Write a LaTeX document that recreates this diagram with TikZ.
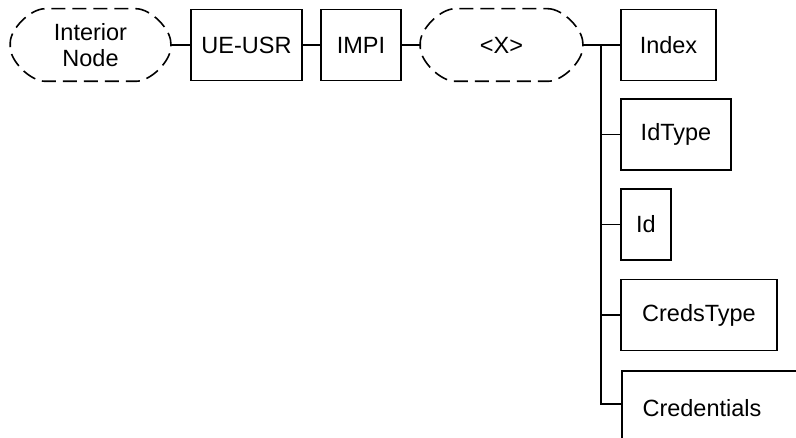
\documentclass[tikz,border=0pt]{standalone}
\usepackage{fontspec}
\setmainfont{Liberation Sans}
\newcommand\dashedoval[1]{%
  \draw[ovalline] ([xshift=-35pt]#1.north east) .. controls ([xshift=-20pt]#1.north east) and ([yshift=16pt]#1.east) .. ([yshift=2pt]#1.east)
   -- ([yshift=-2pt]#1.east) .. controls ([yshift=-16pt]#1.east) and ([xshift=-20pt]#1.south east) .. ([xshift=-35pt]#1.south east)
   -- ([xshift=35pt]#1.south west) .. controls ([xshift=20pt]#1.south west) and ([yshift=-16pt]#1.west) .. ([yshift=-2pt]#1.west)
   -- ([yshift=2pt]#1.west) .. controls ([yshift=16pt]#1.west) and ([xshift=20pt]#1.north west) .. ([xshift=35pt]#1.north west) -- cycle;}
\begin{document}
\begin{tikzpicture}[x=1pt,y=-1pt,line width=1.6pt,
  every node/.style={font=\fontsize{23.5}{26}\selectfont},
  boxnode/.style={draw,rectangle,inner sep=0pt,minimum height=71pt},
  ovalnode/.style={rectangle,inner sep=0pt,minimum height=71pt,align=center},
  ovalline/.style={dash pattern=on 14pt off 7pt},
  link/.style={draw}]
\clip (0,0) rectangle (796,438);
\node[ovalnode,minimum width=159pt] (inode) at (90.5,45) {Interior\\Node};
\node[boxnode,minimum width=111pt] (ueusr) at (246.5,45) {UE-USR};
\node[boxnode,minimum width=80pt] (impi) at (361,45) {IMPI};
\node[ovalnode,minimum width=161pt] (xnode) at (501.5,45) {<X>};
\node[boxnode,minimum width=95pt] (index) at (668.5,45) {Index};
\node[boxnode,minimum width=110pt] (idtype) at (676,134.5) {IdType};
\node[boxnode,minimum width=50pt] (id) at (646,224.5) {Id};
\node[boxnode,minimum width=156pt] (credstype) at (699,315) {CredsType};
\node[boxnode,minimum width=240pt,anchor=north west,text height=0pt,text depth=0pt] (cred) at (621,370) {};
\node (credtext) at (702,408) {Credentials};
\dashedoval{inode}
\dashedoval{xnode}
\coordinate (t) at (601,45);
\draw[link] (inode.east) -- (ueusr.west);
\draw[link] (ueusr.east) -- (impi.west);
\draw[link] (impi.east) -- (xnode.west);
\draw[link] (xnode.east) -- (index.west);
\draw[link] (t) |- (idtype.west);
\draw[link] (t) |- (id.west);
\draw[link] (t) |- (credstype.west);
\draw[link] (t) |- (621,404) coordinate (cw);
\end{tikzpicture}
\end{document}
